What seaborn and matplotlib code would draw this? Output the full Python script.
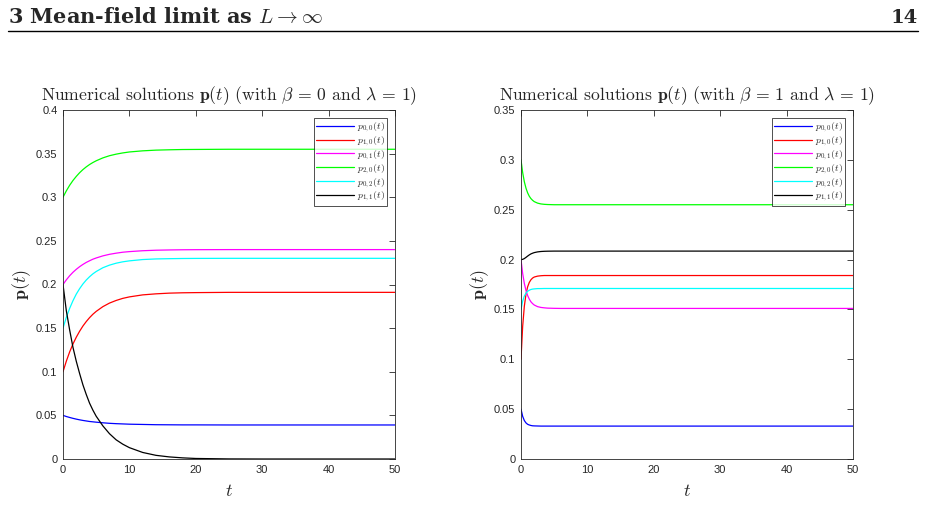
import pandas as pd
import seaborn as sns
import matplotlib.pyplot as plt
from matplotlib.lines import Line2D
from matplotlib.ticker import FuncFormatter

# Left panel: beta = 0, lambda = 1
t_left = [0, 0.5, 1, 1.5, 2, 2.5, 3, 3.5, 4, 4.5, 5, 6, 7, 8, 9, 10, 12, 14, 16, 18, 20, 25, 30, 40, 50]
p00_left = [0.05, 0.0487, 0.0476, 0.0466, 0.0457, 0.0449, 0.0442, 0.0436, 0.0430, 0.0426, 0.0422,
            0.0415, 0.0409, 0.0405, 0.0402, 0.0399, 0.0396, 0.0393, 0.0392, 0.0391, 0.0391,
            0.039, 0.039, 0.039, 0.039]
p10_left = [0.1, 0.1121, 0.1227, 0.1318, 0.1396, 0.1464, 0.1524, 0.1575, 0.1620, 0.1659, 0.1692,
            0.1746, 0.1787, 0.1817, 0.1841, 0.1858, 0.1881, 0.1893, 0.1901, 0.1905, 0.1907,
            0.191, 0.191, 0.191, 0.191]
p01_left = [0.2, 0.2053, 0.2100, 0.2140, 0.2174, 0.2204, 0.2230, 0.2253, 0.2272, 0.2290, 0.2304,
            0.2328, 0.2346, 0.2359, 0.2370, 0.2377, 0.2387, 0.2393, 0.2396, 0.2398, 0.2399,
            0.24, 0.24, 0.24, 0.24]
p20_left = [0.3, 0.3073, 0.3137, 0.3192, 0.3239, 0.3281, 0.3317, 0.3348, 0.3375, 0.3398, 0.3418,
            0.3451, 0.3476, 0.3494, 0.3508, 0.3519, 0.3532, 0.3540, 0.3544, 0.3547, 0.3548,
            0.355, 0.355, 0.355, 0.355]
p02_left = [0.15, 0.1623, 0.1726, 0.1814, 0.1890, 0.1952, 0.2006, 0.2051, 0.2089, 0.2122, 0.2149,
            0.2192, 0.2222, 0.2244, 0.2260, 0.2271, 0.2286, 0.2293, 0.2296, 0.2298, 0.2299,
            0.23, 0.23, 0.23, 0.23]
p11_left = [0.2, 0.17, 0.148, 0.128, 0.112, 0.098, 0.085, 0.074, 0.064, 0.056, 0.049,
            0.038, 0.029, 0.022, 0.017, 0.013, 0.0075, 0.0042, 0.0024, 0.0013, 0.0006,
            0.0001, 0.0, 0.0, 0.0]

# Right panel: beta = 1, lambda = 1
t_right = [0, 0.25, 0.5, 0.75, 1, 1.25, 1.5, 1.75, 2, 2.5, 3, 3.5, 4, 5, 6, 8, 10, 20, 30, 40, 50]
p00_right = [0.05, 0.0428, 0.0386, 0.0362, 0.0348, 0.0341, 0.0336, 0.0333, 0.0332, 0.0331, 0.033,
             0.033, 0.033, 0.033, 0.033, 0.033, 0.033, 0.033, 0.033, 0.033, 0.033]
p10_right = [0.1, 0.1330, 0.1531, 0.1653, 0.1727, 0.1771, 0.1798, 0.1815, 0.1825, 0.1834, 0.1838,
             0.184, 0.184, 0.184, 0.184, 0.184, 0.184, 0.184, 0.184, 0.184, 0.184]
p01_right = [0.2, 0.1861, 0.1761, 0.1690, 0.1639, 0.1603, 0.1576, 0.1558, 0.1544, 0.1528, 0.1520,
             0.1516, 0.1513, 0.1511, 0.151, 0.151, 0.151, 0.151, 0.151, 0.151, 0.151]
p20_right = [0.3, 0.2873, 0.2781, 0.2716, 0.2669, 0.2635, 0.2611, 0.2594, 0.2581, 0.2566, 0.2558,
             0.2554, 0.2552, 0.255, 0.255, 0.255, 0.255, 0.255, 0.255, 0.255, 0.255]
p02_right = [0.15, 0.1583, 0.1633, 0.1663, 0.1682, 0.1693, 0.1700, 0.1704, 0.1706, 0.1709, 0.1709,
             0.171, 0.171, 0.171, 0.171, 0.171, 0.171, 0.171, 0.171, 0.171, 0.171]
p11_right = [0.2, 0.2002, 0.201, 0.2022, 0.2035, 0.2047, 0.2057, 0.2064, 0.207, 0.2077, 0.2081,
             0.2083, 0.2084, 0.2085, 0.2085, 0.2085, 0.2085, 0.2085, 0.2085, 0.2085, 0.2085]

labels = ['$p_{0,0}(t)$', '$p_{1,0}(t)$', '$p_{0,1}(t)$', '$p_{2,0}(t)$', '$p_{0,2}(t)$', '$p_{1,1}(t)$']
colors = ['#0000ff', '#ff0000', '#ff00ff', '#00ff00', '#00ffff', '#000000']


def to_long(t, series):
    frames = []
    for lab, vals in zip(labels, series):
        frames.append(pd.DataFrame({'t': t, 'p': vals, 'series': lab}))
    return pd.concat(frames, ignore_index=True)


df_left = to_long(t_left, [p00_left, p10_left, p01_left, p20_left, p02_left, p11_left])
df_right = to_long(t_right, [p00_right, p10_right, p01_right, p20_right, p02_right, p11_right])

sns.set_style('white')
plt.rcParams['mathtext.fontset'] = 'cm'
plt.rcParams['font.family'] = ['Liberation Sans', 'DejaVu Sans']

fig = plt.figure(figsize=(9.26, 5.3), dpi=100)
ax_l = fig.add_axes([63 / 926, 71 / 530, 332 / 926, 349 / 530])
ax_r = fig.add_axes([521 / 926, 71 / 530, 332 / 926, 349 / 530])

palette = dict(zip(labels, colors))
panels = [(ax_l, df_left, 0.4, 0), (ax_r, df_right, 0.35, 1)]
for ax, df, ymax, beta in panels:
    sns.lineplot(data=df, x='t', y='p', hue='series', hue_order=labels, palette=palette,
                 linewidth=0.9, ax=ax)
    ax.set_xlim(0, 50)
    ax.set_ylim(0, ymax)
    ax.set_xticks([0, 10, 20, 30, 40, 50])
    ax.set_yticks([i * 0.05 for i in range(int(round(ymax / 0.05)) + 1)])
    ax.yaxis.set_major_formatter(FuncFormatter(lambda v, pos: '%g' % round(v, 3)))
    ax.tick_params(direction='in', length=4, width=0.6, labelsize=8, colors='#262626',
                   top=True, right=True, pad=4)
    for sp in ax.spines.values():
        sp.set_visible(True)
        sp.set_color('#262626')
        sp.set_linewidth(0.6)
    ax.set_title(r'Numerical solutions $\mathbf{p}(t)$ (with $\beta\,=\,%d$ and $\lambda\,=\,1$)' % beta,
                 fontsize=12.7, family=['cmr10', 'DejaVu Serif'], pad=7)
    ax.set_xlabel('$t$', fontsize=13, labelpad=6)
    ax.set_ylabel(r'$\mathbf{p}(t)$', fontsize=13, labelpad=2)
    leg = ax.legend(loc='upper right', fontsize=7, frameon=True, fancybox=False,
                    handlelength=3.9, handletextpad=0.3, labelspacing=0.0,
                    borderpad=0.25, borderaxespad=0.8, title=None)
    leg.get_frame().set_edgecolor('#000000')
    leg.get_frame().set_linewidth(0.6)
    for h in leg.get_lines():
        h.set_linewidth(0.9)

# page header
fig.text(8 / 926, 1 - 23 / 530, r'3 Mean-field limit as $L \rightarrow \infty$',
         fontsize=15, family='DejaVu Serif', weight='bold', va='baseline', ha='left')
fig.text(918 / 926, 1 - 23 / 530, '14', fontsize=14, family='DejaVu Serif', weight='bold',
         va='baseline', ha='right')
fig.add_artist(Line2D([8 / 926, 918 / 926], [1 - 31 / 530, 1 - 31 / 530], color='black', linewidth=1))

fig.savefig('out.png', dpi=100)
